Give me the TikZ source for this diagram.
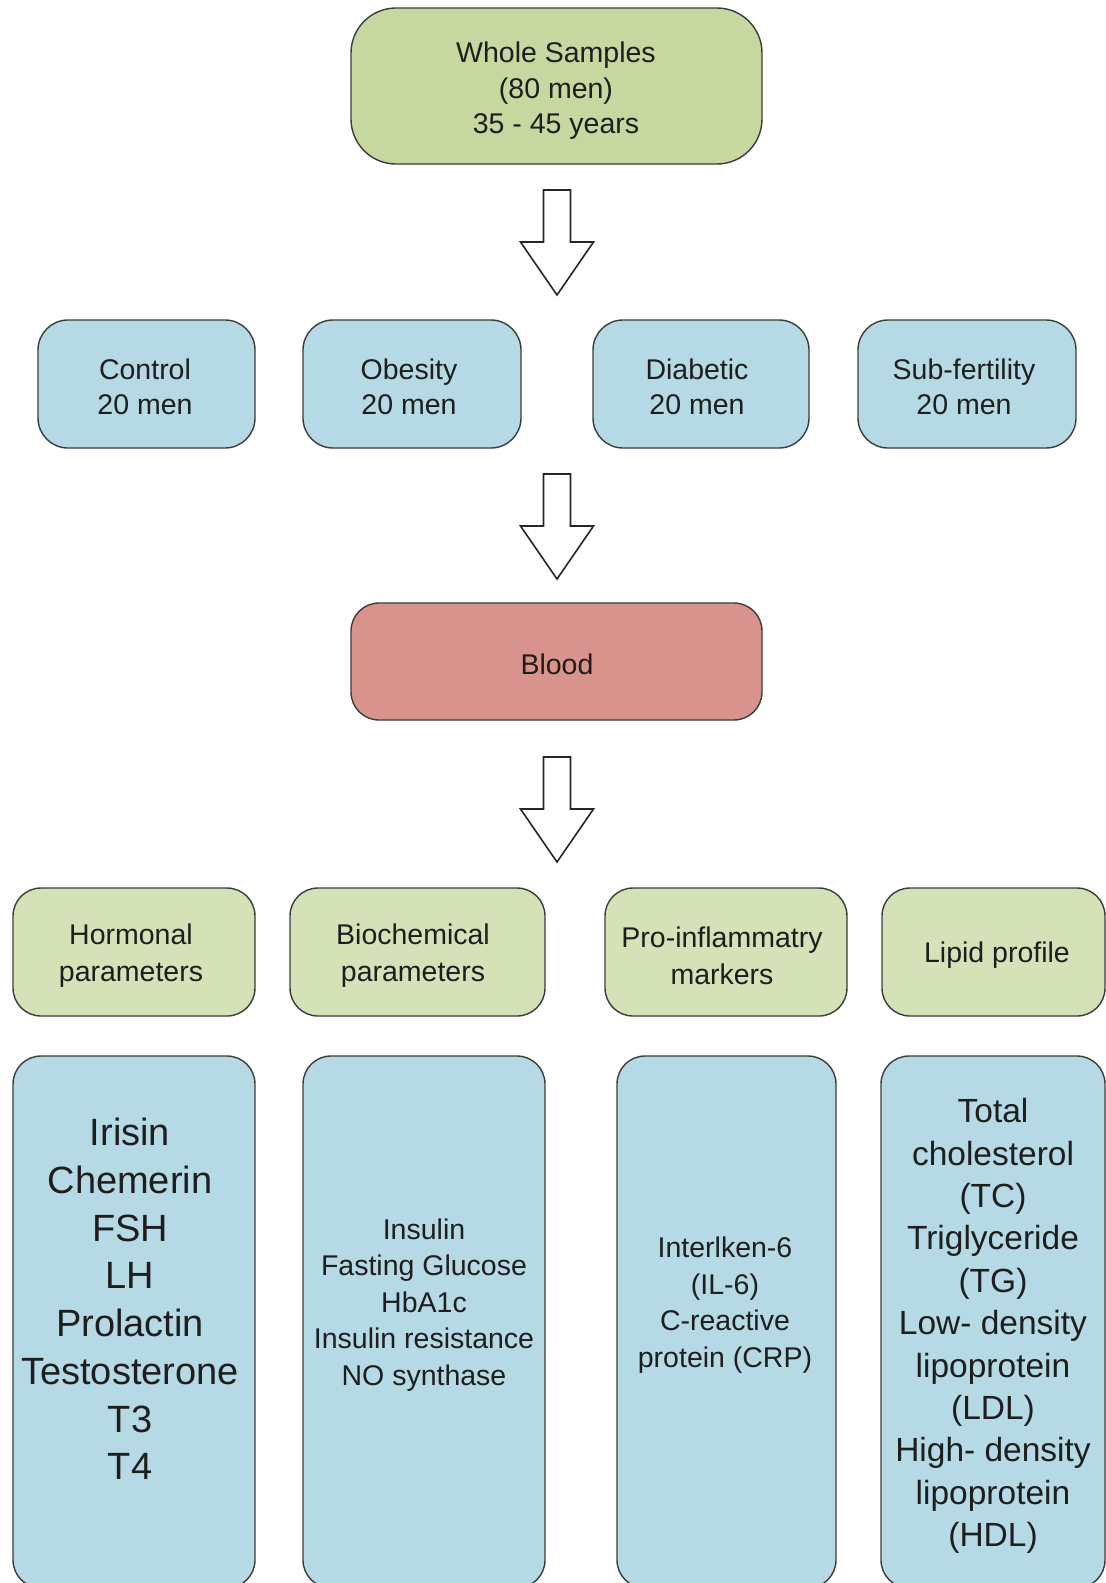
\documentclass[tikz,border=0pt]{standalone}
\usepackage{fontspec}
\setmainfont{Liberation Sans}
\definecolor{gtop}{HTML}{C6D8A0}
\definecolor{glight}{HTML}{D5E1B6}
\definecolor{bl}{HTML}{B5DAE6}
\definecolor{rd}{HTML}{D8938D}
\definecolor{edgec}{HTML}{3C3C3C}
\definecolor{txt}{HTML}{1E1E1E}
\tikzset{
  box/.style={draw=edgec, line width=1.4pt, inner sep=0pt, outer sep=0pt},
  lbl/.style={text=txt, align=center, inner sep=0pt},
  blockarrow/.style={draw=black!85, line width=1.6pt, fill=white, line join=miter}
}
\newcommand\fN{\fontsize{28.5}{35.5}\selectfont}
\newcommand\fR{\fontsize{28.5}{37}\selectfont}
\newcommand\fB{\fontsize{28.5}{36.6}\selectfont}
\newcommand\fH{\fontsize{38}{47.7}\selectfont}
\newcommand\fL{\fontsize{33.5}{42.4}\selectfont}
\newcommand\blockarr[1]{%
  \draw[blockarrow] (#1) +(-13.5,0) -- +(13.5,0) -- +(13.5,52) -- +(36.5,52)
     -- +(0,105) -- +(-36.5,52) -- +(-13.5,52) -- cycle;}
\begin{document}
\begin{tikzpicture}[x=1pt,y=-1pt]
\useasboundingbox (0,0) rectangle (1106,1583);
\fill[white] (0,0) rectangle (1106,1583);
\begin{scope}
\clip (0,0) rectangle (1106,1583);

% top
\node[box, fill=gtop, rounded corners=45pt, minimum width=411pt, minimum height=156pt] (whole) at (556.5,86) {};
\node[lbl, font=\fN] (wholet) at (556,91) {Whole Samples\\(80 men)\\35 - 45 years};

% arrow 1
\coordinate (a1) at (557,190);
\blockarr{a1}

% row 2
\node[box, fill=bl, rounded corners=30pt, minimum width=217pt, minimum height=128pt] (control) at (146.5,384) {};
\node[box, fill=bl, rounded corners=30pt, minimum width=218pt, minimum height=128pt] (obesity) at (412,384) {};
\node[box, fill=bl, rounded corners=30pt, minimum width=216pt, minimum height=128pt] (diabetic) at (701,384) {};
\node[box, fill=bl, rounded corners=30pt, minimum width=218pt, minimum height=128pt] (subfert) at (967,384) {};
\node[lbl, font=\fN] (controlt) at (145,387) {Control\\20 men};
\node[lbl, font=\fN] (obesityt) at (409,387) {Obesity\\20 men};
\node[lbl, font=\fN] (diabetict) at (697,387) {Diabetic\\20 men};
\node[lbl, font=\fN] (subfertt) at (964,387) {Sub-fertility\\20 men};

% arrow 2
\coordinate (a2) at (557,474);
\blockarr{a2}

% blood
\node[box, fill=rd, rounded corners=28pt, minimum width=411pt, minimum height=117pt] (blood) at (556.5,661.5) {};
\node[lbl, font=\fN] (bloodt) at (557,664) {Blood};

% arrow 3
\coordinate (a3) at (557,757);
\blockarr{a3}

% row 4
\node[box, fill=glight, rounded corners=28pt, minimum width=242pt, minimum height=128pt] (hormonal) at (134,952) {};
\node[box, fill=glight, rounded corners=28pt, minimum width=255pt, minimum height=128pt] (biochem) at (417.5,952) {};
\node[box, fill=glight, rounded corners=28pt, minimum width=242pt, minimum height=128pt] (proinf) at (726,952) {};
\node[box, fill=glight, rounded corners=28pt, minimum width=223pt, minimum height=128pt] (lipid) at (993.5,952) {};
\node[lbl, font=\fR] (hormonalt) at (131,956) {Hormonal\\parameters};
\node[lbl, font=\fR] (biochemt) at (413,956) {Biochemical\\parameters};
\node[lbl, font=\fR] (proinft) at (722,956) {Pro-inflammatry\\markers};
\node[lbl, font=\fR] (lipidt) at (997,955) {Lipid profile};

% row 5
\node[box, fill=bl, rounded corners=28pt, minimum width=242pt, minimum height=532pt] (hormlist) at (134,1322) {};
\node[box, fill=bl, rounded corners=28pt, minimum width=242pt, minimum height=532pt] (biolist) at (424,1322) {};
\node[box, fill=bl, rounded corners=28pt, minimum width=219pt, minimum height=532pt] (prolist) at (726.5,1322) {};
\node[box, fill=bl, rounded corners=28pt, minimum width=224pt, minimum height=532pt] (lipidlist) at (993,1322) {};
\node[lbl, font=\fH] (hormlistt) at (130,1299) {Irisin\\Chemerin\\FSH\\LH\\Prolactin\\Testosterone\\T3\\T4};
\node[lbl, font=\fB] (biolistt) at (424,1305) {Insulin\\Fasting Glucose\\HbA1c\\Insulin resistance\\NO synthase};
\node[lbl, font=\fB] (prolistt) at (725,1305) {Interlken-6\\(IL-6)\\C-reactive\\protein (CRP)};
\node[lbl, font=\fL] (lipidlistt) at (993,1326) {Total\\cholesterol\\(TC)\\Triglyceride\\(TG)\\Low- density\\lipoprotein\\(LDL)\\High- density\\lipoprotein\\(HDL)};
\end{scope}
\end{tikzpicture}
\end{document}
